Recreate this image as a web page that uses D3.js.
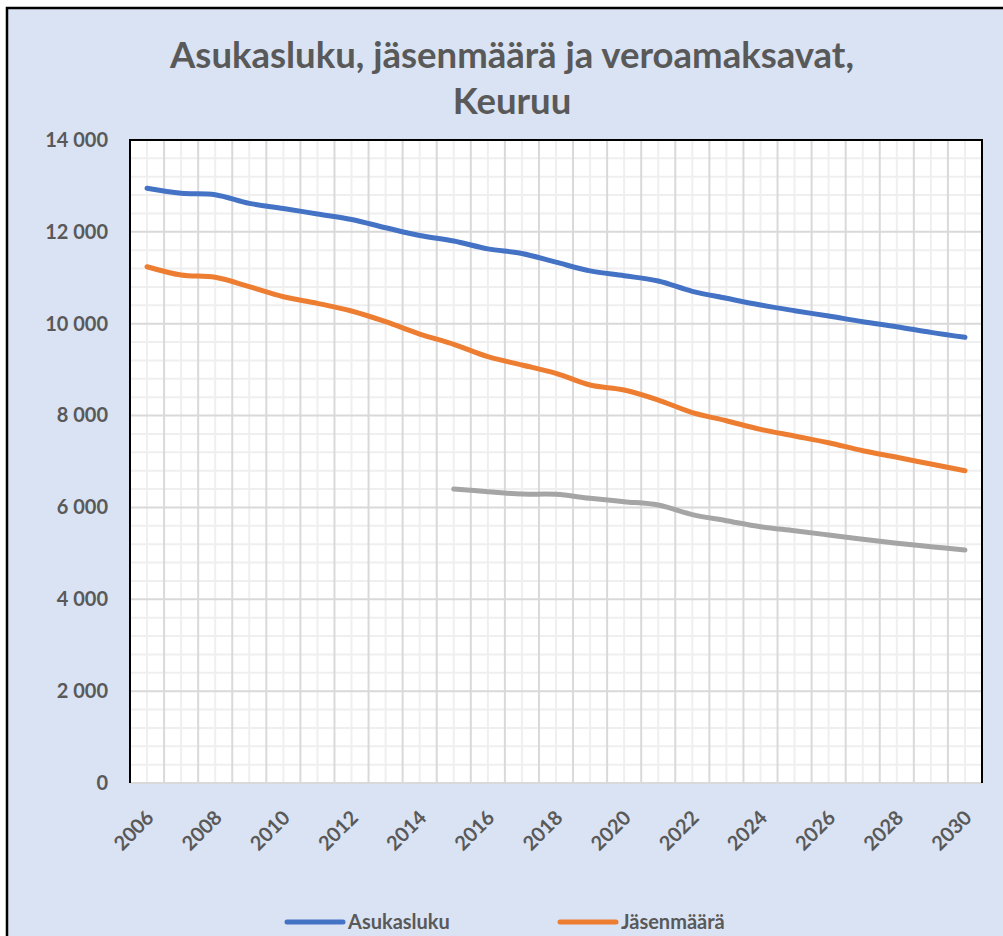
<!DOCTYPE html>
<html>
<head>
<meta charset="utf-8">
<script src="https://cdn.jsdelivr.net/npm/d3@7"></script>
<style>
  body { margin: 0; background: #fff; }
  text { font-family: Lato, "Liberation Sans", sans-serif; font-weight: bold; fill: #595959; }
</style>
</head>
<body>
<svg></svg>
<script>
//chart data
var years = [2006, 2007, 2008, 2009, 2010, 2011, 2012, 2013, 2014, 2015, 2016, 2017, 2018,
             2019, 2020, 2021, 2022, 2023, 2024, 2025, 2026, 2027, 2028, 2029, 2030];

var asukasluku = [12950, 12840, 12810, 12620, 12510, 12390, 12270, 12090, 11920, 11800, 11630, 11530, 11340,
                  11150, 11045, 10930, 10705, 10553, 10407, 10283, 10168, 10044, 9935, 9812, 9704];

var jasenmaara = [11240, 11060, 11010, 10806, 10588, 10444, 10277, 10044, 9775, 9551, 9282, 9101, 8920,
                  8665, 8557, 8339, 8065, 7888, 7700, 7555, 7409, 7235, 7091, 6945, 6800];

//veroa maksavat only from 2015 on
var veroamaksavat = [null, null, null, null, null, null, null, null, null, 6401, 6343, 6290, 6285,
                     6198, 6125, 6053, 5843, 5711, 5580, 5493, 5400, 5306, 5219, 5146, 5073];

var seriesNames = ["Asukasluku", "Jäsenmäärä", "Veroamaksavat"];
var seriesColors = ["#4472c4", "#ed7d31", "#a5a5a5"];
var yTicks = [0, 2000, 4000, 6000, 8000, 10000, 12000, 14000];
var titleLines = ["Asukasluku, jäsenmäärä ja veroamaksavat,", "Keuruu"];

var svgWidth = 1003;
var svgHeight = 936;
var svgContainer = d3.select("svg")
                     .attr("width", svgWidth)
                     .attr("height", svgHeight);

//chart area background + frame
svgContainer.append("rect")
            .attr("x", 7)
            .attr("y", 8)
            .attr("width", 1010)
            .attr("height", 950)
            .style("fill", "#dae3f3")
            .style("stroke", "#000")
            .style("stroke-width", 2.5);

//plot area
var plotLeft = 130, plotRight = 982, plotTop = 140, plotBottom = 783;

var x = d3.scaleBand().domain(years).range([plotLeft, plotRight]);
var y = d3.scaleLinear().domain([0, 14000]).range([plotBottom, plotTop]);

svgContainer.append("rect")
            .attr("x", plotLeft)
            .attr("y", plotTop)
            .attr("width", plotRight - plotLeft)
            .attr("height", plotBottom - plotTop)
            .style("fill", "#fff");

//minor gridlines
var minorY = d3.range(0, 14001, 400).filter(function(v){ return v % 2000 != 0; });
svgContainer.selectAll("line.minorY")
            .data(minorY)
            .enter()
            .append("line")
            .attr("class", "minorY")
            .attr("x1", plotLeft).attr("x2", plotRight)
            .attr("y1", function(d){ return y(d); })
            .attr("y2", function(d){ return y(d); })
            .style("stroke", "#efefef")
            .style("stroke-width", 2);

svgContainer.selectAll("line.minorX")
            .data(years)
            .enter()
            .append("line")
            .attr("class", "minorX")
            .attr("x1", function(d){ return x(d) + x.bandwidth() / 2; })
            .attr("x2", function(d){ return x(d) + x.bandwidth() / 2; })
            .attr("y1", plotTop).attr("y2", plotBottom)
            .style("stroke", "#efefef")
            .style("stroke-width", 2);

//major gridlines
svgContainer.selectAll("line.majorY")
            .data(yTicks.slice(1))
            .enter()
            .append("line")
            .attr("class", "majorY")
            .attr("x1", plotLeft).attr("x2", plotRight)
            .attr("y1", function(d){ return y(d); })
            .attr("y2", function(d){ return y(d); })
            .style("stroke", "#d9d9d9")
            .style("stroke-width", 2);

svgContainer.selectAll("line.majorX")
            .data(years.slice(1))
            .enter()
            .append("line")
            .attr("class", "majorX")
            .attr("x1", function(d){ return x(d); })
            .attr("x2", function(d){ return x(d); })
            .attr("y1", plotTop).attr("y2", plotBottom)
            .style("stroke", "#d9d9d9")
            .style("stroke-width", 2);

//plot area border (bottom is the gray category axis)
svgContainer.append("path")
            .attr("d", "M" + plotLeft + "," + plotBottom + "V" + plotTop + "H" + plotRight + "V" + plotBottom)
            .style("fill", "none")
            .style("stroke", "#000")
            .style("stroke-width", 2);
svgContainer.append("line")
            .attr("x1", plotLeft + 1).attr("x2", plotRight - 1)
            .attr("y1", plotBottom).attr("y2", plotBottom)
            .style("stroke", "#d9d9d9")
            .style("stroke-width", 2);

//axes
var fi = d3.formatLocale({decimal: ",", thousands: "\u00a0", grouping: [3], currency: ["", " €"]});

var yAxis = svgContainer.append("g")
            .attr("transform", "translate(" + (plotLeft - 22) + ",0)")
            .call(d3.axisLeft(y).tickValues(yTicks).tickFormat(fi.format(",d")).tickSize(0).tickPadding(0));
yAxis.select(".domain").remove();
yAxis.attr("font-family", null).attr("font-size", null);
yAxis.selectAll("text")
     .style("font-size", "20px")
     .attr("fill", null);

var xAxis = svgContainer.append("g")
            .attr("transform", "translate(0," + plotBottom + ")")
            .call(d3.axisBottom(x).tickValues(years.filter(function(d){ return d % 2 == 0; })).tickSize(0));
xAxis.select(".domain").remove();
xAxis.attr("font-family", null).attr("font-size", null);
xAxis.selectAll("text")
     .style("font-size", "20px")
     .attr("fill", null)
     .attr("text-anchor", "end")
     .attr("dy", "0.35em")
     .attr("transform", "translate(3,31) rotate(-45)")
     .attr("y", 0).attr("x", 0);

//lines
var lineGen = d3.line()
                .defined(function(d){ return d[1] != null; })
                .x(function(d){ return x(d[0]) + x.bandwidth() / 2; })
                .y(function(d){ return y(d[1]); })
                .curve(d3.curveCatmullRom.alpha(0.5));

[asukasluku, jasenmaara, veroamaksavat].forEach(function(vals, i){
  svgContainer.append("path")
              .datum(years.map(function(yr, j){ return [yr, vals[j]]; }))
              .attr("d", lineGen)
              .style("fill", "none")
              .style("stroke", seriesColors[i])
              .style("stroke-width", 5)
              .style("stroke-linecap", "round")
              .style("stroke-linejoin", "round");
});

//title
svgContainer.selectAll("text.title")
            .data(titleLines)
            .enter()
            .append("text")
            .attr("class", "title")
            .attr("x", 512)
            .attr("y", function(d, i){ return 68 + i * 46; })
            .attr("text-anchor", "middle")
            .style("font-size", "36.5px")
            .text(function(d){ return d; });

//legend (third entry wraps below the visible area)
var legendX = [287, 560];
for (var i = 0; i < 2; i++) {
  svgContainer.append("line")
              .attr("x1", legendX[i]).attr("x2", legendX[i] + 56)
              .attr("y1", 922).attr("y2", 922)
              .style("stroke", seriesColors[i])
              .style("stroke-width", 5)
              .style("stroke-linecap", "round");
  svgContainer.append("text")
              .attr("x", legendX[i] + 61)
              .attr("y", 929)
              .style("font-size", "20px")
              .text(seriesNames[i]);
}
</script>
</body>
</html>
